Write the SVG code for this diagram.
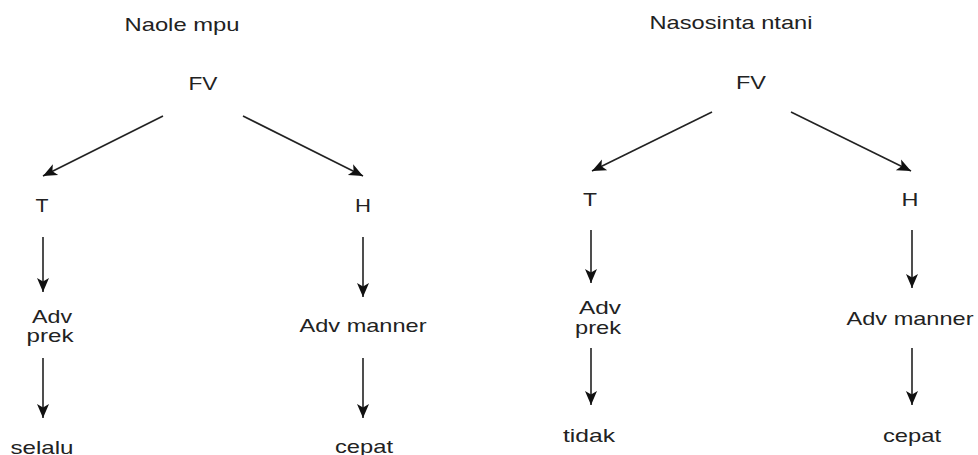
<svg xmlns="http://www.w3.org/2000/svg" width="978" height="455" viewBox="0 0 978 455">
<defs>
<marker id="ah" markerUnits="userSpaceOnUse" markerWidth="16" markerHeight="16" viewBox="0 0 16 16" refX="14" refY="8" orient="auto">
<path d="M0,2 L14,8 L0,14 L3.5,8 Z" fill="#111"/>
</marker>
<style>
text{font-family:"Liberation Sans",Arial,sans-serif;font-size:19px;fill:#222;text-anchor:middle}
.c line{stroke:#222;stroke-width:1.6;marker-end:url(#ah)}
</style>
</defs>
<rect width="978" height="455" fill="#fff"/>
<g id="title-left"><text x="182" y="31" textLength="115" lengthAdjust="spacingAndGlyphs">Naole mpu</text></g>
<g id="fv-left"><text x="203" y="90" textLength="29" lengthAdjust="spacingAndGlyphs">FV</text></g>
<g id="t-left"><text x="42" y="212" textLength="13" lengthAdjust="spacingAndGlyphs">T</text></g>
<g id="h-left"><text x="363" y="212" textLength="16" lengthAdjust="spacingAndGlyphs">H</text></g>
<g id="advprek-left"><text x="52" y="323" textLength="40" lengthAdjust="spacingAndGlyphs">Adv</text><text x="50" y="342" textLength="47" lengthAdjust="spacingAndGlyphs">prek</text></g>
<g id="selalu-left"><text x="42" y="454" textLength="63" lengthAdjust="spacingAndGlyphs">selalu</text></g>
<g id="advmanner-left"><text x="363" y="332" textLength="127" lengthAdjust="spacingAndGlyphs">Adv manner</text></g>
<g id="cepat-left"><text x="364" y="453" textLength="58" lengthAdjust="spacingAndGlyphs">cepat</text></g>

<g id="title-right"><text x="731" y="29" textLength="163" lengthAdjust="spacingAndGlyphs">Nasosinta ntani</text></g>
<g id="fv-right"><text x="751" y="89" textLength="30" lengthAdjust="spacingAndGlyphs">FV</text></g>
<g id="t-right"><text x="590" y="206" textLength="14" lengthAdjust="spacingAndGlyphs">T</text></g>
<g id="h-right"><text x="910" y="206" textLength="17" lengthAdjust="spacingAndGlyphs">H</text></g>
<g id="advprek-right"><text x="600" y="314" textLength="42" lengthAdjust="spacingAndGlyphs">Adv</text><text x="598" y="334" textLength="46" lengthAdjust="spacingAndGlyphs">prek</text></g>
<g id="tidak-right"><text x="589" y="442" textLength="52" lengthAdjust="spacingAndGlyphs">tidak</text></g>
<g id="advmanner-right"><text x="910" y="325" textLength="127" lengthAdjust="spacingAndGlyphs">Adv manner</text></g>
<g id="cepat-right"><text x="912" y="442" textLength="58" lengthAdjust="spacingAndGlyphs">cepat</text></g>

<g id="connectors" class="c">
<line x1="163" y1="116" x2="43" y2="176"/>
<line x1="243" y1="116" x2="363" y2="176"/>
<line x1="43" y1="237" x2="43" y2="292"/>
<line x1="43" y1="358" x2="43" y2="418"/>
<line x1="363" y1="237" x2="363" y2="297"/>
<line x1="363" y1="358" x2="363" y2="418"/>
<line x1="712" y1="112" x2="592" y2="171"/>
<line x1="791" y1="112" x2="911" y2="171"/>
<line x1="591" y1="230" x2="591" y2="283"/>
<line x1="591" y1="348" x2="591" y2="405"/>
<line x1="912" y1="230" x2="912" y2="288"/>
<line x1="912" y1="348" x2="912" y2="405"/>
</g>
</svg>
